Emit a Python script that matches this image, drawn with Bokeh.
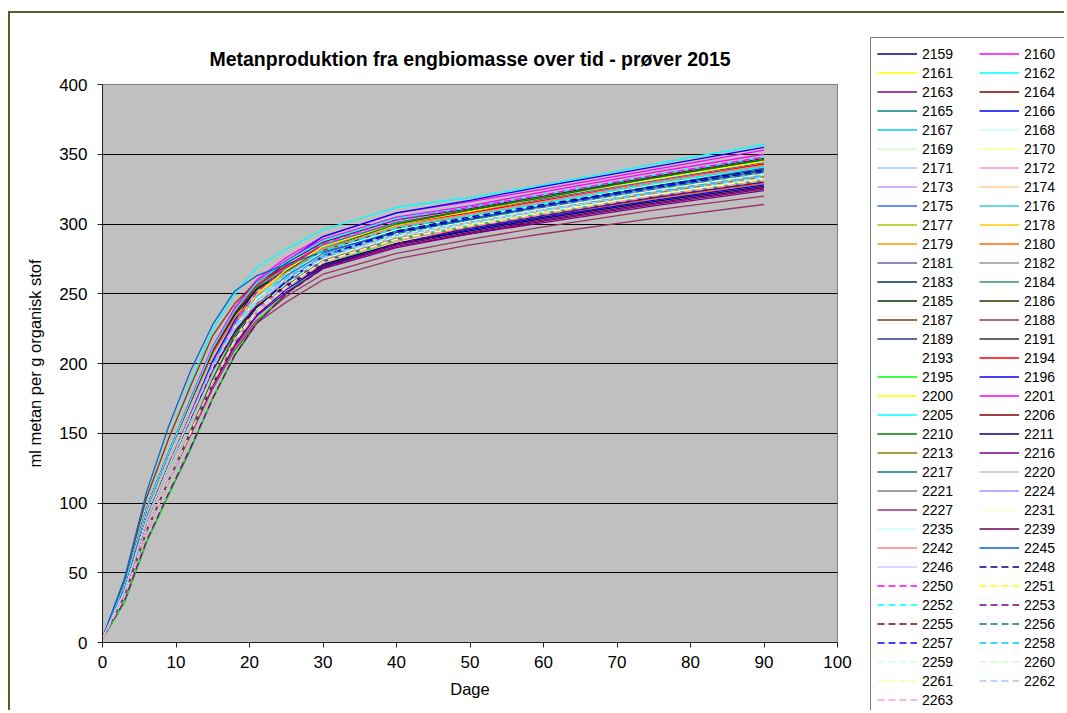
from bokeh.plotting import figure
from bokeh.models import Range1d, Legend, LegendItem, FixedTicker, InlineStyleSheet
from bokeh.embed import file_html
from bokeh.resources import INLINE

# ---------------- data ----------------
days = [0, 3, 6, 9, 12, 15, 18, 21, 25, 30, 40, 50, 60, 75, 90]

x_ticks = [0, 10, 20, 30, 40, 50, 60, 70, 80, 90, 100]
y_ticks = [0, 50, 100, 150, 200, 250, 300, 350, 400]

samples = ["2159", "2160", "2161", "2162", "2163", "2164", "2165", "2166", "2167", "2168",
           "2169", "2170", "2171", "2172", "2173", "2174", "2175", "2176", "2177", "2178",
           "2179", "2180", "2181", "2182", "2183", "2184", "2185", "2186", "2187", "2188",
           "2189", "2191", "2193", "2194", "2195", "2196", "2200", "2201", "2205", "2206",
           "2210", "2211", "2213", "2216", "2217", "2220", "2221", "2224", "2227", "2231",
           "2235", "2239", "2242", "2245", "2246", "2248", "2250", "2251", "2252", "2253",
           "2255", "2256", "2257", "2258", "2259", "2260", "2261", "2262", "2263"]

m2159 = [3, 37, 88, 126, 162, 197, 225, 244, 260, 275, 291, 300, 309, 321, 333]
m2160 = [3, 41, 96, 136, 175, 212, 240, 260, 276, 291, 308, 316, 325, 339, 353]
m2161 = [3, 33, 80, 116, 151, 188, 218, 240, 260, 278, 295, 305, 314, 328, 340]
m2162 = [3, 45, 104, 146, 186, 224, 250, 269, 282, 296, 312, 319, 328, 343, 357]
m2163 = [3, 37, 88, 126, 161, 195, 222, 240, 254, 269, 284, 293, 301, 313, 324]
m2164 = [3, 37, 88, 126, 163, 200, 229, 250, 267, 284, 301, 310, 319, 333, 346]
m2165 = [3, 41, 96, 136, 173, 209, 235, 253, 267, 281, 296, 304, 313, 326, 338]
m2166 = [3, 37, 88, 126, 164, 202, 231, 254, 273, 291, 308, 317, 327, 341, 355]
m2167 = [3, 41, 96, 136, 174, 210, 237, 255, 269, 284, 299, 307, 316, 330, 342]
m2168 = [3, 37, 88, 126, 162, 198, 226, 246, 261, 277, 293, 302, 311, 324, 336]
m2169 = [3, 33, 80, 116, 151, 186, 216, 238, 256, 274, 291, 301, 310, 322, 334]
m2170 = [3, 37, 88, 126, 161, 197, 224, 243, 258, 274, 289, 298, 307, 320, 331]
m2171 = [3, 37, 88, 126, 162, 198, 227, 247, 263, 279, 296, 305, 314, 327, 339]
m2172 = [3, 33, 80, 116, 151, 187, 216, 238, 257, 275, 292, 301, 310, 323, 335]
m2173 = [3, 37, 88, 126, 162, 197, 225, 244, 259, 275, 290, 299, 308, 321, 332]
m2174 = [3, 33, 80, 116, 150, 186, 215, 236, 254, 271, 287, 297, 306, 319, 330]
m2175 = [3, 41, 96, 136, 174, 210, 237, 256, 270, 285, 301, 309, 318, 331, 344]
m2176 = [3, 41, 96, 136, 173, 210, 236, 255, 268, 283, 298, 306, 315, 329, 341]
m2177 = [3, 37, 88, 126, 163, 200, 228, 250, 267, 284, 300, 309, 319, 332, 345]
m2178 = [3, 37, 88, 126, 163, 199, 228, 249, 266, 282, 299, 308, 317, 330, 343]
m2179 = [3, 37, 88, 126, 161, 196, 223, 242, 256, 271, 286, 295, 304, 316, 327]
m2180 = [3, 41, 96, 136, 172, 207, 233, 249, 261, 274, 289, 297, 305, 318, 329]
m2181 = [3, 36, 87, 125, 161, 197, 226, 245, 261, 277, 293, 302, 311, 324, 336]
m2182 = [3, 33, 80, 116, 151, 186, 216, 237, 256, 273, 290, 300, 309, 321, 333]
m2183 = [3, 29, 72, 106, 139, 175, 206, 229, 250, 269, 286, 297, 306, 319, 330]
m2184 = [3, 37, 88, 126, 162, 199, 227, 247, 264, 280, 296, 305, 314, 328, 340]
m2185 = [3, 41, 96, 136, 173, 209, 235, 253, 266, 280, 295, 303, 312, 325, 337]
m2186 = [3, 41, 96, 136, 173, 209, 236, 254, 267, 281, 297, 305, 314, 327, 339]
m2187 = [3, 45, 104, 146, 184, 220, 243, 259, 269, 281, 294, 301, 310, 323, 335]
m2188 = [3, 33, 80, 116, 149, 184, 212, 231, 248, 264, 279, 289, 298, 310, 320]
m2189 = [3, 38, 89, 127, 162, 197, 224, 243, 258, 273, 289, 298, 307, 319, 331]
m2191 = [3, 41, 96, 136, 174, 211, 238, 258, 272, 287, 303, 311, 320, 334, 347]
m2193 = [3, 37, 88, 126, 162, 198, 226, 246, 263, 279, 295, 304, 313, 326, 338]
m2194 = [3, 41, 96, 136, 174, 210, 237, 256, 270, 284, 300, 308, 317, 330, 343]
m2195 = [3, 29, 72, 106, 140, 175, 207, 230, 251, 271, 288, 299, 308, 321, 332]
m2196 = [3, 33, 80, 116, 150, 185, 214, 235, 253, 270, 286, 296, 305, 317, 328]
m2200 = [3, 36, 87, 125, 162, 199, 228, 250, 267, 284, 300, 309, 319, 332, 345]
m2201 = [3, 41, 96, 136, 174, 212, 239, 259, 274, 289, 305, 313, 323, 337, 350]
m2205 = [3, 41, 96, 136, 174, 211, 238, 258, 273, 288, 304, 312, 321, 335, 348]
m2206 = [3, 38, 89, 127, 163, 199, 227, 246, 261, 277, 293, 302, 311, 324, 336]
m2210 = [3, 33, 80, 116, 152, 189, 220, 243, 263, 282, 300, 310, 319, 333, 346]
m2211 = [3, 36, 87, 126, 161, 196, 223, 241, 256, 271, 286, 295, 304, 316, 327]
m2213 = [3, 37, 88, 126, 162, 197, 225, 245, 260, 276, 292, 301, 310, 322, 334]
m2216 = [3, 33, 80, 116, 150, 185, 213, 234, 251, 268, 283, 293, 302, 314, 325]
m2217 = [3, 37, 88, 127, 163, 199, 227, 247, 263, 279, 295, 304, 313, 326, 338]
m2220 = [3, 37, 88, 126, 162, 197, 225, 244, 260, 275, 291, 300, 309, 321, 333]
m2221 = [3, 37, 88, 126, 161, 197, 224, 243, 258, 274, 289, 298, 307, 320, 331]
m2224 = [3, 37, 88, 126, 162, 198, 226, 246, 262, 278, 294, 303, 312, 325, 337]
m2227 = [3, 33, 80, 116, 149, 182, 210, 229, 244, 260, 275, 285, 293, 304, 314]
m2231 = [3, 37, 88, 126, 162, 198, 226, 246, 261, 277, 293, 302, 311, 324, 336]
m2235 = [3, 37, 88, 126, 162, 199, 227, 247, 264, 280, 296, 305, 314, 328, 340]
m2239 = [3, 37, 88, 126, 161, 196, 223, 241, 255, 270, 285, 294, 303, 315, 326]
m2242 = [3, 37, 88, 126, 163, 199, 228, 248, 265, 282, 298, 307, 316, 330, 342]
m2245 = [3, 46, 108, 155, 195, 228, 252, 263, 271, 280, 294, 303, 313, 327, 340]
m2246 = [3, 37, 88, 126, 162, 198, 225, 245, 261, 277, 292, 301, 310, 323, 335]
m2248 = [3, 33, 80, 116, 151, 187, 218, 240, 259, 277, 295, 305, 314, 327, 339]
m2250 = [3, 37, 88, 126, 163, 200, 229, 251, 269, 286, 303, 312, 321, 335, 348]
m2251 = [3, 33, 80, 116, 151, 186, 216, 237, 255, 273, 289, 299, 308, 321, 332]
m2252 = [3, 37, 88, 126, 162, 199, 227, 248, 264, 281, 297, 306, 315, 329, 341]
m2253 = [3, 30, 73, 107, 140, 175, 206, 229, 250, 268, 286, 297, 306, 319, 330]
m2255 = [3, 38, 89, 127, 162, 197, 225, 245, 260, 276, 292, 301, 310, 322, 334]
m2256 = [3, 33, 80, 116, 151, 187, 217, 239, 258, 276, 293, 303, 312, 325, 337]
m2257 = [3, 33, 80, 116, 151, 187, 217, 239, 259, 277, 294, 304, 313, 326, 338]
m2258 = [3, 37, 88, 126, 162, 198, 225, 245, 261, 277, 292, 301, 310, 323, 335]
m2259 = [3, 37, 88, 126, 162, 197, 225, 244, 260, 275, 291, 300, 309, 321, 333]
m2260 = [3, 33, 80, 116, 151, 187, 217, 239, 257, 275, 292, 302, 311, 324, 336]
m2261 = [3, 33, 80, 116, 151, 186, 216, 237, 255, 273, 289, 299, 308, 321, 332]
m2262 = [3, 37, 88, 126, 162, 197, 225, 245, 260, 276, 292, 301, 310, 322, 334]
m2263 = [3, 33, 80, 116, 150, 186, 215, 236, 254, 272, 288, 298, 307, 320, 331]

series = [m2159, m2160, m2161, m2162, m2163, m2164, m2165, m2166, m2167, m2168,
          m2169, m2170, m2171, m2172, m2173, m2174, m2175, m2176, m2177, m2178,
          m2179, m2180, m2181, m2182, m2183, m2184, m2185, m2186, m2187, m2188,
          m2189, m2191, m2193, m2194, m2195, m2196, m2200, m2201, m2205, m2206,
          m2210, m2211, m2213, m2216, m2217, m2220, m2221, m2224, m2227, m2231,
          m2235, m2239, m2242, m2245, m2246, m2248, m2250, m2251, m2252, m2253,
          m2255, m2256, m2257, m2258, m2259, m2260, m2261, m2262, m2263]

colors = ["#000080", "#FF00FF", "#FFFF00", "#00FFFF", "#800080", "#800000", "#008080", "#0000FF",
          "#00CCFF", "#CCFFFF", "#CCFFCC", "#FFFF99", "#99CCFF", "#FF99CC", "#CC99FF", "#FFCC99",
          "#3366FF", "#33CCCC", "#99CC00", "#FFCC00", "#FF9900", "#FF6600", "#666699", "#969696",
          "#003366", "#339966", "#003300", "#333300", "#993300", "#993366", "#333399", "#333333",
          "#FFFFFF", "#FF0000", "#00FF00", "#0000FF", "#FFFF00", "#FF00FF", "#00FFFF", "#800000",
          "#008000", "#000080", "#808000", "#800080", "#008080", "#C0C0C0", "#808080", "#9999FF",
          "#993366", "#FFFFCC", "#CCFFFF", "#660066", "#FF8080", "#0066CC", "#CCCCFF",
          "#000080", "#FF00FF", "#FFFF00", "#00FFFF", "#800080", "#800000", "#008080", "#0000FF",
          "#00CCFF", "#CCFFFF", "#CCFFCC", "#FFFF99", "#99CCFF", "#FF99CC"]

n_solid = 55  # the last 14 series are dashed

# ---------------- main chart ----------------
FONT = "Liberation Sans"
H = 710
W_MAIN = 865
W_LEG = 199

p = figure(width=W_MAIN, height=H, output_backend="svg", toolbar_location=None,
           x_range=Range1d(0, 100), y_range=Range1d(0, 400),
           min_border_left=102, min_border_right=W_MAIN - 837, min_border_top=84,
           min_border_bottom=H - 642,
           background_fill_color="#C0C0C0", border_fill_color="white")

p.title.text = "Metanproduktion fra engbiomasse over tid - prøver 2015"
p.title.text_font = FONT
p.title.text_font_size = "19.5px"
p.title.text_font_style = "bold"
p.title.text_color = "black"
p.title.align = "center"
p.title.offset = 5
p.title.standoff = 30

p.outline_line_color = "#808080"
p.outline_line_width = 1

p.xgrid.grid_line_color = None
p.ygrid.grid_line_color = "black"
p.ygrid.grid_line_width = 1

p.xaxis.ticker = FixedTicker(ticks=x_ticks)
p.yaxis.ticker = FixedTicker(ticks=y_ticks)
for ax in (p.xaxis[0], p.yaxis[0]):
    ax.major_label_text_font = FONT
    ax.major_label_text_font_size = "17px"
    ax.major_label_text_color = "black"
    ax.axis_label_text_font = FONT
    ax.axis_label_text_font_size = "16.5px"
    ax.axis_label_text_font_style = "normal"
    ax.axis_label_text_color = "black"
    ax.axis_line_color = "#222222"
    ax.major_tick_line_color = "#222222"
    ax.major_tick_out = 5
    ax.major_tick_in = 0
    ax.minor_tick_out = 0
    ax.minor_tick_in = 0

p.xaxis.axis_label = "Dage"
p.yaxis.axis_label = "ml metan per g organisk stof"
p.xaxis.major_label_standoff = 8
p.xaxis.axis_label_standoff = 9
p.yaxis.major_label_standoff = 10
p.yaxis.axis_label_standoff = 12

for i, (vals, col) in enumerate(zip(series, colors)):
    dash = "solid" if i < n_solid else "7 4"
    p.line(days, vals, line_color=col, line_width=1.3, line_dash=dash)

# ---------------- legend panel (own canvas, same series) ----------------
lg = figure(width=W_LEG, height=H, output_backend="svg", toolbar_location=None,
            x_range=Range1d(-1000, -999), y_range=Range1d(-1000, -999),
            x_axis_type=None, y_axis_type=None,
            min_border_left=0, min_border_right=0, min_border_top=0, min_border_bottom=0,
            background_fill_color="white", border_fill_color="white")
lg.outline_line_color = None
lg.grid.grid_line_color = None

items = []
for i, (name, vals, col) in enumerate(zip(samples, series, colors)):
    dash = "solid" if i < n_solid else "7 4"
    r = lg.line(days, vals, line_color=col, line_width=1.6, line_dash=dash)
    items.append(LegendItem(label=name, renderers=[r]))

# two columns read row by row: the left column holds the even entries
legend_items = items[0::2] + items[1::2]

legend = Legend(items=legend_items, orientation="vertical", nrows=35,
                location=(5, -6),
                padding=6, spacing=0, margin=0,
                glyph_width=40, glyph_height=19, label_height=19,
                label_width=57, label_standoff=5,
                label_text_font=FONT, label_text_font_size="14px",
                label_text_color="black",
                border_line_color="black", border_line_width=1,
                background_fill_color="white", background_fill_alpha=1)
lg.add_layout(legend, "center")

p.stylesheets = [InlineStyleSheet(css=(
    ":host { position: relative; }"
    ":host::after { content: ''; position: absolute; left: 8px; top: 11px; right: 0; bottom: 0;"
    " border-left: 2px solid #4f6228; border-top: 2px solid #4f6228; pointer-events: none; }"
))]
lg.stylesheets = [InlineStyleSheet(css=(
    f":host {{ position: absolute !important; left: {W_MAIN}px !important; top: 0px !important; }}"
    ":host::after { content: ''; position: absolute; left: 0; top: 11px; right: 0; bottom: 0;"
    " border-top: 2px solid #4f6228; pointer-events: none; }"
))]

open("out.html", "w").write(file_html([p, lg], INLINE))
